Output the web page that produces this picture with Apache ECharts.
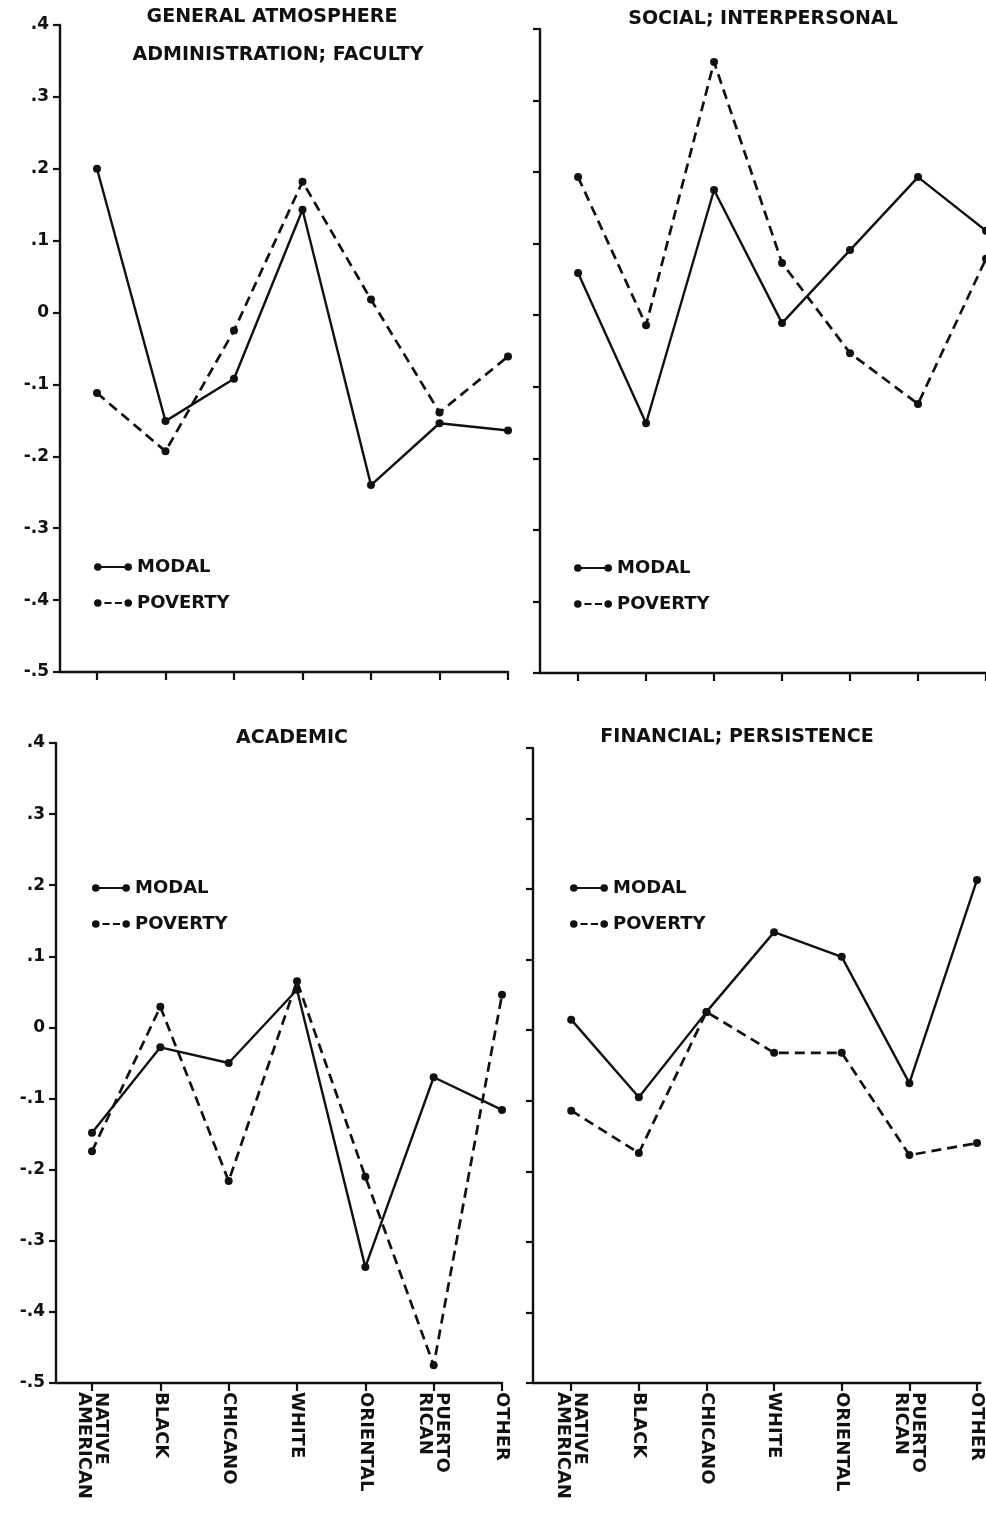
<!DOCTYPE html>
<html>
<head>
<meta charset="utf-8">
<script src="https://cdn.jsdelivr.net/npm/echarts@6/dist/echarts.min.js"></script>
<style>
html,body{margin:0;padding:0;background:#fff;}
#chart{width:986px;height:1520px;}
</style>
</head>
<body>
<div id="chart"></div>
<script>
// ---- data ----
const categories = ['NATIVE\nAMERICAN', 'BLACK', 'CHICANO', 'WHITE', 'ORIENTAL', 'PUERTO\nRICAN', 'OTHER'];
const yTickLabels = ['-.5', '-.4', '-.3', '-.2', '-.1', '0', '.1', '.2', '.3', '.4'];
const panelTitles = [
  ['GENERAL ATMOSPHERE', 'ADMINISTRATION; FACULTY'],
  ['SOCIAL; INTERPERSONAL'],
  ['ACADEMIC'],
  ['FINANCIAL; PERSISTENCE']
];
const seriesNames = ['MODAL', 'POVERTY'];
const generalModal = [0.20, -0.151, -0.092, 0.143, -0.240, -0.154, -0.164];
const generalPoverty = [-0.112, -0.193, -0.025, 0.182, 0.018, -0.139, -0.061];
const socialModal = [0.059, -0.151, 0.175, -0.011, 0.091, 0.193, 0.118];
const socialPoverty = [0.193, -0.014, 0.354, 0.073, -0.053, -0.124, 0.079];
const academicModal = [-0.148, -0.028, -0.050, 0.053, -0.337, -0.070, -0.116];
const academicPoverty = [-0.174, 0.029, -0.216, 0.065, -0.210, -0.475, 0.046];
const financialModal = [0.015, -0.095, 0.026, 0.139, 0.104, -0.075, 0.213];
const financialPoverty = [-0.114, -0.174, 0.026, -0.032, -0.032, -0.177, -0.160];

// ---- layout ----
const INK = '#111';
const FONT = '"DejaVu Sans", sans-serif';
const panels = [
  { grid: {left: 60, top: 25, width: 448, height: 647}, xMin: -0.54, xMax: 6, yLabels: true, xLabels: false,
    modal: generalModal, poverty: generalPoverty,
    titles: [{x: 272, y: 8}, {x: 278, y: 46}], legend: {left: 94, top: 557} },
  { grid: {left: 540, top: 29, width: 456, height: 644}, xMin: -0.56, xMax: 6, yLabels: false, xLabels: false,
    modal: socialModal, poverty: socialPoverty,
    titles: [{x: 763, y: 10}], legend: {left: 574, top: 558} },
  { grid: {left: 56, top: 743, width: 446, height: 640}, xMin: -0.527, xMax: 6, yLabels: true, xLabels: true,
    modal: academicModal, poverty: academicPoverty,
    titles: [{x: 292, y: 729}], legend: {left: 92, top: 878} },
  { grid: {left: 533, top: 748, width: 456, height: 635}, xMin: -0.565, xMax: 6.05, yLabels: false, xLabels: true,
    modal: financialModal, poverty: financialPoverty,
    titles: [{x: 737, y: 728}], legend: {left: 570, top: 878} }
];

const modalIcon = 'path://M0,4a4,4 0 1,1 8,0a4,4 0 1,1 -8,0ZM7,3H33V5H7ZM32,4a4,4 0 1,1 8,0a4,4 0 1,1 -8,0Z';
const povertyIcon = 'path://M0,4a4,4 0 1,1 8,0a4,4 0 1,1 -8,0ZM11,2.9H18.5V5.1H11ZM22,2.9H29.5V5.1H22ZM32,4a4,4 0 1,1 8,0a4,4 0 1,1 -8,0Z';

const idx = [0, 1, 2, 3, 4, 5, 6];
const option = {
  animation: false,
  backgroundColor: '#fff',
  title: [], grid: [], xAxis: [], yAxis: [], legend: [], series: []
};

panels.forEach((p, i) => {
  panelTitles[i].forEach((t, k) => {
    option.title.push({
      text: t, left: p.titles[k].x, top: p.titles[k].y, textAlign: 'center', padding: 0,
      textStyle: {fontFamily: FONT, fontWeight: 'bold', fontSize: 19, color: INK}
    });
  });
  option.grid.push(Object.assign({containLabel: false}, p.grid));
  option.xAxis.push({
    type: 'value', gridIndex: i, min: p.xMin, max: p.xMax,
    splitLine: {show: false},
    axisLine: {show: true, onZero: false, lineStyle: {color: INK, width: 2.4}},
    axisTick: {show: true, customValues: idx, length: 8, lineStyle: {color: INK, width: 2.2}},
    axisLabel: {
      show: p.xLabels, customValues: idx, rotate: -90, margin: 9,
      fontFamily: FONT, fontWeight: 'bold', fontSize: 18, lineHeight: 17, color: INK,
      formatter: v => categories[Math.round(v)]
    }
  });
  option.yAxis.push({
    type: 'value', gridIndex: i, min: -0.5, max: 0.4, interval: 0.1,
    splitLine: {show: false},
    axisLine: {show: true, onZero: false, lineStyle: {color: INK, width: 2.4}},
    axisTick: {show: true, length: 7, lineStyle: {color: INK, width: 2.2}},
    axisLabel: {
      show: p.yLabels, margin: 11, fontFamily: FONT, fontWeight: 'bold', fontSize: 17, color: INK,
      formatter: v => yTickLabels[Math.round((v + 0.5) * 10)]
    }
  });
  option.legend.push({
    orient: 'vertical', left: p.legend.left, top: p.legend.top, padding: 0,
    itemWidth: 38, itemHeight: 7.6, itemGap: 16, selectedMode: false,
    itemStyle: {color: INK, borderWidth: 0},
    textStyle: {fontFamily: FONT, fontWeight: 'bold', fontSize: 18, lineHeight: 20, color: INK},
    data: [{name: seriesNames[0], icon: modalIcon}, {name: seriesNames[1], icon: povertyIcon}]
  });
  option.series.push({
    type: 'line', name: seriesNames[0], xAxisIndex: i, yAxisIndex: i,
    data: p.modal.map((v, j) => [j, v]),
    symbol: 'circle', symbolSize: 8, showAllSymbol: true, silent: true,
    itemStyle: {color: INK}, lineStyle: {color: INK, width: 2.4}
  });
  option.series.push({
    type: 'line', name: seriesNames[1], xAxisIndex: i, yAxisIndex: i,
    data: p.poverty.map((v, j) => [j, v]),
    symbol: 'circle', symbolSize: 8, showAllSymbol: true, silent: true,
    itemStyle: {color: INK}, lineStyle: {color: INK, width: 2.7, type: [10, 6]}
  });
});

const chart = echarts.init(document.getElementById('chart'), null, {renderer: 'canvas'});
chart.setOption(option);
</script>
</body>
</html>
